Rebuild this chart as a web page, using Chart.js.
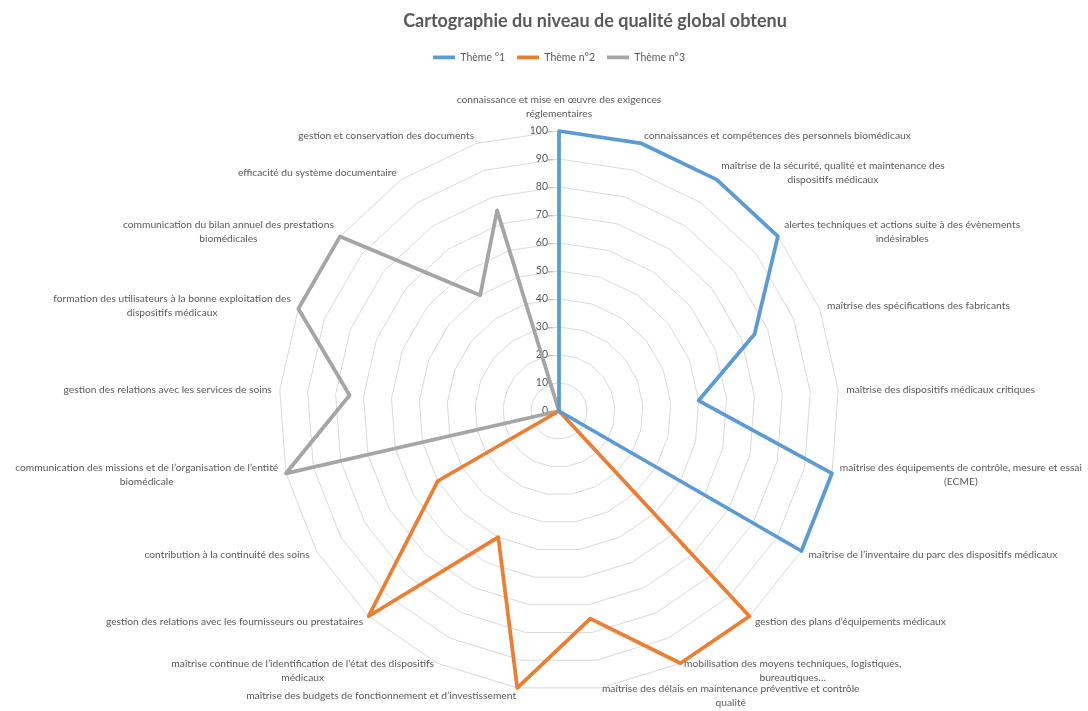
<!DOCTYPE html>
<html lang="fr">
<head>
<meta charset="UTF-8">
<title>Cartographie du niveau de qualité global obtenu</title>
<script src="https://cdn.jsdelivr.net/npm/chart.js"></script>
<style>
  html, body { margin: 0; padding: 0; background: #fff; }
  canvas { display: block; }
</style>
</head>
<body>
<canvas id="radar" width="1088" height="711"></canvas>
<script>
// categories, clockwise from the top (multi-line labels as in the workbook)
const categories = [
  ['connaissance et mise en œuvre des exigences', 'réglementaires'],
  'connaissances et compétences des personnels biomédicaux',
  ['maîtrise de la sécurité, qualité et maintenance des', 'dispositifs médicaux'],
  ['alertes techniques et actions suite à des évènements', 'indésirables'],
  'maîtrise des spécifications des fabricants',
  'maîtrise des dispositifs médicaux critiques',
  ['maîtrise des équipements de contrôle, mesure et essai', '(ECME)'],
  'maîtrise de l’inventaire du parc des dispositifs médicaux',
  'gestion des plans d’équipements médicaux',
  ['mobilisation des moyens techniques, logistiques,', 'bureautiques…'],
  ['maîtrise des délais en maintenance préventive et contrôle', 'qualité'],
  'maîtrise des budgets de fonctionnement et d’investissement',
  ['maîtrise continue de l’identification de l’état des dispositifs', 'médicaux'],
  'gestion des relations avec les fournisseurs ou prestataires',
  'contribution à la continuité des soins',
  ['communication des missions et de l’organisation de l’entité', 'biomédicale'],
  'gestion des relations avec les services de soins',
  ['formation des utilisateurs à la bonne exploitation des', 'dispositifs médicaux'],
  ['communication du bilan annuel des prestations', 'biomédicales'],
  'efficacité du système documentaire',
  'gestion et conservation des documents'
];

const theme1 = [100, 100, 100, 100, 75, 50, 100, 100, 0, 0, 0, 0, 0, 0, 0, 0, 0, 0, 0, 0, 0];
const theme2 = [0, 0, 0, 0, 0, 0, 0, 0, 100, 100, 75, 100, 50, 100, 50, 0, 0, 0, 0, 0, 0];
const theme3 = [0, 0, 0, 0, 0, 0, 0, 0, 0, 0, 0, 0, 0, 0, 0, 100, 75, 100, 100, 50, 75];

const seriesNames = ['Thème °1', 'Thème n°2', 'Thème n°3'];
const seriesColors = ['#5B9BD5', '#ED7D31', '#A5A5A5'];

const tickMin = 0, tickMax = 100, tickStep = 10;

const TITLE = 'Cartographie du niveau de qualité global obtenu';
const FONT = 'Lato, "Noto Sans", sans-serif';
const GREY = '#595959';
const LABEL_SIZE = 10.25;
const LINE_H = 14;
// the workbook centres the title on the whole chart object, a bit right of the plot
const TITLE_SHIFT = 36;

const excelRadar = {
  id: 'excelRadar',
  beforeInit(chart) {
    // leave a gap between the legend and the plot
    const fit = chart.legend.fit;
    chart.legend.fit = function () {
      fit.call(this);
      this.height += 59;
    };
  },
  beforeDatasetsDraw(chart) {
    // tick values sit left of the vertical axis
    const s = chart.scales.r;
    const ctx = chart.ctx;
    ctx.save();
    ctx.font = '10.5px ' + FONT;
    ctx.fillStyle = GREY;
    ctx.strokeStyle = '#bfbfbf';
    ctx.lineWidth = 1;
    ctx.textAlign = 'right';
    ctx.textBaseline = 'middle';
    s.ticks.forEach(t => {
      const y = s.yCenter - s.getDistanceFromCenterForValue(t.value);
      ctx.beginPath();
      ctx.moveTo(s.xCenter - 11, Math.round(y) + 0.5);
      ctx.lineTo(s.xCenter - 6, Math.round(y) + 0.5);
      ctx.stroke();
      ctx.fillText(t.label, s.xCenter - 11, y);
    });
    ctx.restore();
  },
  afterDraw(chart) {
    const s = chart.scales.r;
    const ctx = chart.ctx;
    const n = chart.data.labels.length;
    ctx.save();
    ctx.fillStyle = GREY;
    ctx.textAlign = 'center';
    ctx.textBaseline = 'middle';

    ctx.font = 'bold 18px ' + FONT;
    ctx.fillText(TITLE, s.xCenter + TITLE_SHIFT, 21);

    // category labels just outside the outer polygon
    ctx.font = LABEL_SIZE + 'px ' + FONT;
    chart.data.labels.forEach((label, i) => {
      const lines = [].concat(label);
      const p = s.getPointPosition(i, s.drawingArea + 8);
      const deg = i * 360 / n;
      const w = Math.max(...lines.map(l => ctx.measureText(l).width));
      const h = lines.length * LINE_H;
      let cx = p.x;
      let top = p.y - h / 2;
      if (deg === 0) top = p.y - h - 2;
      else if (deg === 180) top = p.y;
      else if (deg < 180) cx = p.x + w / 2;
      else cx = p.x - w / 2;
      lines.forEach((l, k) => ctx.fillText(l, cx, top + LINE_H * (k + 0.5)));
    });
    ctx.restore();
  }
};

const series = [theme1, theme2, theme3];

new Chart(document.getElementById('radar'), {
  type: 'radar',
  data: {
    labels: categories,
    datasets: series.map((vals, i) => ({
      label: seriesNames[i],
      data: vals,
      borderColor: seriesColors[i],
      backgroundColor: seriesColors[i],
      borderWidth: 3.75,
      fill: false,
      pointRadius: 0,
      pointHoverRadius: 0,
      tension: 0,
      borderJoinStyle: 'round'
    }))
  },
  options: {
    responsive: false,
    animation: false,
    layout: { padding: { top: 40, left: 30, right: 0, bottom: 19 } },
    plugins: {
      title: { display: false },
      legend: {
        position: 'top',
        labels: {
          usePointStyle: true,
          pointStyle: 'line',
          pointStyleWidth: 22,
          color: GREY,
          font: { family: FONT, size: 10.5 },
          padding: 12
        }
      },
      tooltip: { enabled: false }
    },
    scales: {
      r: {
        min: tickMin,
        max: tickMax,
        ticks: { display: false, stepSize: tickStep },
        pointLabels: { display: false },
        angleLines: { display: false },
        grid: { color: '#d9d9d9', lineWidth: 1 }
      }
    }
  },
  plugins: [excelRadar]
});
</script>
</body>
</html>
